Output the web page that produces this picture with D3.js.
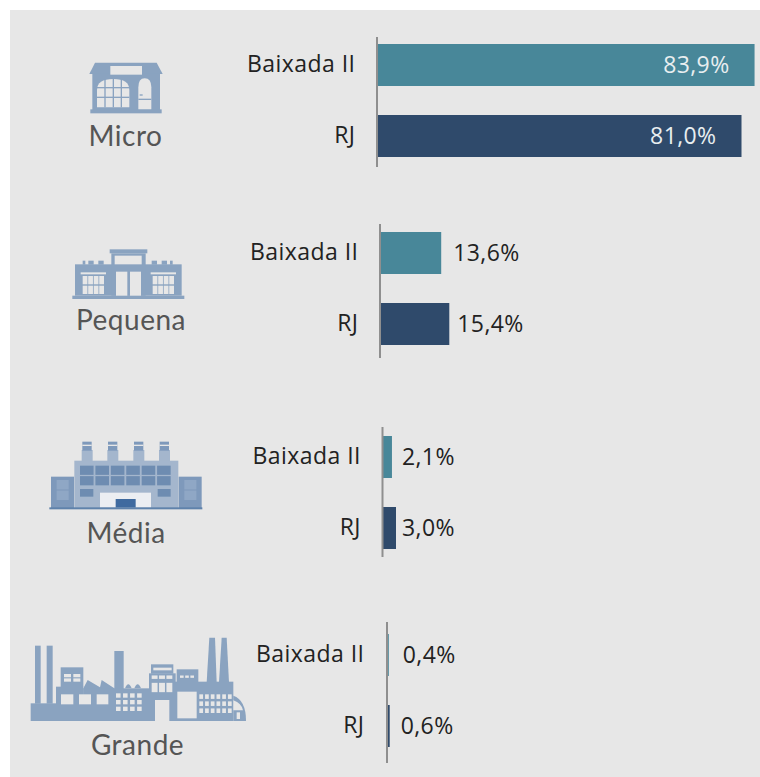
<!DOCTYPE html>
<html lang="pt">
<head>
<meta charset="utf-8">
<title>Porte das empresas</title>
<script src="https://cdn.jsdelivr.net/npm/d3@7"></script>
<style>
    html, body { margin: 0; padding: 0; background: #fff; overflow: hidden; }
    text { font-family: "Open Sans", sans-serif; }
</style>
</head>
<body>
<div id="chart"></div>
<script>
// ---- DATA ----
const portes = ["Micro", "Pequena", "Média", "Grande"];
const regioes = ["Baixada II", "RJ"];
const baixadaValues = [83.9, 13.6, 2.1, 0.4];
const rjValues = [81.0, 15.4, 3.0, 0.6];

// ---- LAYOUT (per group, the source image is not quite aligned) ----
const axisX = d3.scaleOrdinal(portes, [377, 380, 382.5, 387]);
const axisTop = d3.scaleOrdinal(portes, [37, 224, 427, 622]);
const axisBottom = d3.scaleOrdinal(portes, [167, 358, 557, 763]);
const firstBarTop = d3.scaleOrdinal(portes, [44, 232, 436, 634]);
const labelGap = d3.scaleOrdinal(portes, [21.5, 21.5, 21.5, 22.5]);
const groupLabelX = d3.scaleOrdinal(portes, [125.5, 131, 126, 137.5]);
const groupLabelY = d3.scaleOrdinal(portes, [146, 330, 543, 755]);
const valueGap = d3.scaleOrdinal(portes, [[0, 0], [12, 8], [10, 6], [14, 11]]);

const width = 760, height = 777;
const teal = "#488799", navy = "#2f4a6b";
const iconBlue = "#8aa3c0", bg = "#e7e7e7";

const x = d3.scaleLinear().domain([0, 100]).range([0, 450]);
const color = d3.scaleOrdinal(regioes, [teal, navy]);

const svg = d3.select("#chart").append("svg")
    .attr("width", width)
    .attr("height", height)
    .style("display", "block");

svg.append("rect")
    .attr("x", 10).attr("y", 10)
    .attr("width", width - 10).attr("height", height - 10)
    .attr("fill", bg);

// ---- BARS ----
const rows = portes.map((porte, i) => ({
    porte,
    values: [
        { regiao: regioes[0], value: baixadaValues[i], idx: 0 },
        { regiao: regioes[1], value: rjValues[i], idx: 1 }
    ]
}));

const fmt = v => v.toFixed(1).replace(".", ",") + "%";

const groups = svg.selectAll(".group")
    .data(rows)
    .enter()
    .append("g")
    .attr("class", "group")
    .attr("transform", d => `translate(${axisX(d.porte)},0)`);

groups.each(function (row) {
    const g = d3.select(this);
    const top = firstBarTop(row.porte);
    const gaps = valueGap(row.porte);
    const y = d3.scaleBand()
        .domain(regioes)
        .range([top, top + 113])
        .paddingInner(29 / 71)
        .paddingOuter(0);

    g.selectAll("rect")
        .data(row.values)
        .enter()
        .append("rect")
        .attr("x", 0)
        .attr("y", d => y(d.regiao))
        .attr("width", d => x(d.value))
        .attr("height", y.bandwidth())
        .attr("fill", d => color(d.regiao));

    // vertical axis line
    g.append("line")
        .attr("y1", axisTop(row.porte))
        .attr("y2", axisBottom(row.porte))
        .attr("stroke", "#8f8f8f")
        .attr("stroke-width", 2);

    g.selectAll(".cat")
        .data(row.values)
        .enter()
        .append("text")
        .attr("class", "cat")
        .attr("x", -labelGap(row.porte))
        .attr("y", d => y(d.regiao) + y.bandwidth() / 2 + 7)
        .attr("text-anchor", "end")
        .attr("font-size", 23)
        .attr("letter-spacing", 0.45)
        .attr("fill", "#222")
        .text(d => d.regiao);

    g.selectAll(".val")
        .data(row.values)
        .enter()
        .append("text")
        .attr("class", "val")
        .attr("x", d => d.value > 50 ? x(d.value) - 25 : x(d.value) + gaps[d.idx])
        .attr("y", d => y(d.regiao) + y.bandwidth() / 2 + 8)
        .attr("text-anchor", d => d.value > 50 ? "end" : "start")
        .attr("font-size", 23)
        .attr("letter-spacing", 0.4)
        .attr("fill", d => d.value > 50 ? "#e8eef0" : "#222")
        .text(d => fmt(d.value));
});

// ---- GROUP NAMES ----
svg.selectAll(".porte")
    .data(portes)
    .enter()
    .append("text")
    .attr("class", "porte")
    .attr("x", d => groupLabelX(d))
    .attr("y", d => groupLabelY(d))
    .attr("text-anchor", "middle")
    .attr("font-size", 28)
    .attr("letter-spacing", 0.5)
    .attr("fill", "#555")
    .style("font-family", "Lato, sans-serif")
    .text(d => d);

// ---- ICONS ----
// coordinates are at 3x inside each icon, scaled back down by the group
function icon(ox, oy) {
    return svg.append("g").attr("transform", `translate(${ox},${oy}) scale(${1 / 3})`);
}
function box(g, x0, y0, x1, y1, fill) {
    g.append("rect").attr("x", x0).attr("y", y0)
        .attr("width", x1 - x0).attr("height", y1 - y0).attr("fill", fill);
}
function poly(g, pts, fill) {
    g.append("polygon").attr("points", pts).attr("fill", fill);
}
// w x h grid of little panes
function panes(g, x0, y0, x1, y1, cols, rowCount, gap, fill) {
    const cx = d3.scaleBand().domain(d3.range(cols)).range([x0, x1]).paddingInner(gap);
    const cy = d3.scaleBand().domain(d3.range(rowCount)).range([y0, y1]).paddingInner(gap);
    d3.range(cols).forEach(c => d3.range(rowCount).forEach(r => {
        g.append("rect").attr("x", cx(c)).attr("y", cy(r))
            .attr("width", cx.bandwidth()).attr("height", cy.bandwidth()).attr("fill", fill);
    }));
}

// Micro
{
    const g = icon(0, 0);
    poly(g, "268,222 285,188 470,188 488,222", iconBlue);
    box(g, 277, 220, 480, 330, iconBlue);
    box(g, 271, 328, 485, 340, iconBlue);
    box(g, 331, 198, 426, 224, bg);
    g.append("path").attr("d", "M291,322 V270 Q291,237 340,237 Q388,237 388,270 V322 Z").attr("fill", bg);
    [315, 340, 364].forEach(v => box(g, v - 2, 237, v + 2, 322, iconBlue));
    [263, 292].forEach(v => box(g, 291, v - 2, 388, v + 2, iconBlue));
    g.append("path").attr("d", "M415,328 V262 Q415,235 434,235 Q454,235 454,262 V328 Z").attr("fill", bg);
    box(g, 415, 296, 454, 300, iconBlue);
    box(g, 419, 283, 428, 287, iconBlue);
}

// Pequena
{
    const g = icon(40, 230);
    box(g, 105, 103, 425, 197, iconBlue);
    box(g, 97, 197, 433, 207, iconBlue);
    box(g, 209, 58, 322, 70, iconBlue);
    box(g, 214, 70, 317, 197, iconBlue);
    box(g, 224, 77, 305, 103, bg);
    [[128, 136], [145, 161], [175, 191], [335, 351], [365, 381], [390, 398]]
        .forEach(c => box(g, c[0], 92, c[1], 104, iconBlue));
    box(g, 228, 125, 262, 197, bg);
    box(g, 270, 125, 303, 197, bg);
    [[122, 198], [332, 408]].forEach(w => {
        box(g, w[0], 127, w[1], 133, bg);
        panes(g, w[0] + 6, 138, w[1] - 6, 192, 4, 2, 0.14, bg);
    });
}

// Média
{
    const g = icon(30, 420);
    const light = "#a4b6cd", mid = "#7e99bb", dark = "#6e8cb1";
    [155, 232, 310, 387].forEach(v => {
        box(g, v, 90, v + 33, 125, light);
        box(g, v + 2, 65, v + 30, 92, mid);
        box(g, v + 2, 74, v + 30, 78, bg);
    });
    box(g, 133, 122, 445, 265, light);
    box(g, 63, 170, 132, 265, mid);
    box(g, 446, 170, 515, 265, mid);
    panes(g, 150, 137, 422, 196, 6, 2, 0.12, dark);
    box(g, 150, 207, 190, 230, dark);
    box(g, 383, 207, 422, 230, dark);
    [63, 446].forEach(v => panes(g, v + 15, 180, v + 55, 240, 1, 2, 0.1, "#8fa7c5"));
    box(g, 210, 218, 363, 263, "#eceef2");
    box(g, 257, 237, 317, 263, "#3f6a9f");
    box(g, 58, 262, 517, 268, "#5f82ab");
}

// Grande
{
    const g = icon(15, 625);
    box(g, 47, 235, 420, 288, iconBlue);
    box(g, 60, 62, 77, 236, iconBlue);
    box(g, 95, 62, 113, 236, iconBlue);
    box(g, 123, 185, 205, 240, iconBlue);
    box(g, 137, 127, 205, 186, iconBlue);
    poly(g, "205,190 218,165 255,187 260,165 298,190 298,215 205,215", iconBlue);
    box(g, 298, 78, 326, 192, iconBlue);
    box(g, 205, 190, 405, 240, iconBlue);
    g.append("path").attr("d", "M330,190 Q340,165 350,190 Z M358,190 Q368,165 378,190 Z").attr("fill", iconBlue);
    box(g, 402, 145, 482, 288, iconBlue);
    box(g, 408, 118, 475, 146, iconBlue);
    box(g, 480, 170, 655, 288, iconBlue);
    box(g, 485, 133, 550, 171, iconBlue);
    poly(g, "575,172 583,38 600,38 605,172", iconBlue);
    poly(g, "612,172 620,38 635,38 642,172", iconBlue);
    g.append("path").attr("d", "M655,212 Q693,225 693,288 H655 Z").attr("fill", iconBlue);
    g.append("path").attr("d", "M655,226 Q680,235 684,256 H655 Z").attr("fill", bg);

    panes(g, 147, 147, 196, 170, 2, 2, 0.25, bg);
    box(g, 138, 208, 175, 238, bg);
    box(g, 192, 208, 228, 238, bg);
    box(g, 245, 208, 280, 238, bg);
    panes(g, 303, 205, 380, 258, 4, 3, 0.35, bg);
    box(g, 415, 128, 470, 136, bg);
    panes(g, 410, 150, 472, 163, 3, 1, 0.2, bg);
    panes(g, 410, 170, 472, 205, 3, 1, 0.2, bg);
    box(g, 420, 225, 463, 288, bg);
    panes(g, 495, 150, 537, 160, 3, 1, 0.3, bg);
    box(g, 487, 200, 545, 280, bg);
    panes(g, 553, 208, 650, 264, 6, 3, 0.35, bg);
    box(g, 665, 262, 675, 282, bg);
}
</script>
</body>
</html>
